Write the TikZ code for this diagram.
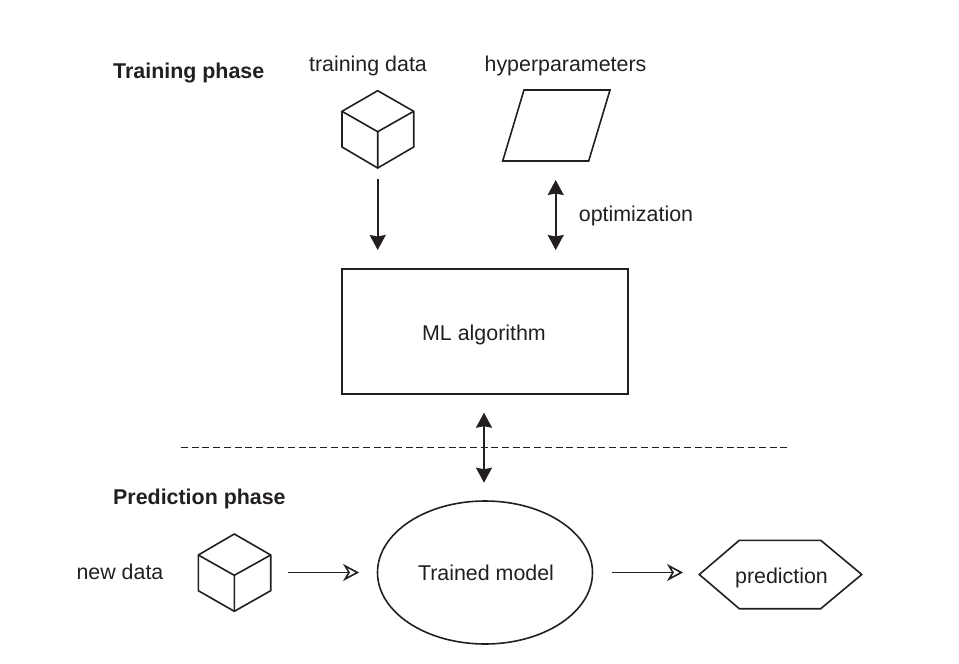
\documentclass[tikz,border=0pt]{standalone}
\usepackage{fontspec}
\setmainfont{Liberation Sans}
\usetikzlibrary{arrows.meta,shapes.geometric}
\definecolor{ink}{HTML}{231F20}
\tikzset{
  x=1pt,y=-1pt,
  line/.style={draw=ink,line width=1.6pt,line join=miter},
  label/.style={anchor=base,inner sep=0pt,text=ink,font=\fontsize{21.4}{24}\selectfont},
  heading/.style={anchor=base west,inner sep=0pt,text=ink,font=\fontsize{21.4}{24}\selectfont\bfseries},
  hidden/.style={inner sep=0pt,outer sep=0pt},
  solidhead/.tip={Stealth[length=15pt,width=16pt,inset=1.5pt,fill=ink]},
  openhead/.tip={Stealth[open,length=16pt,width=17pt,inset=5pt,fill=white,line width=1.6pt]},
  one/.style={line,-{solidhead}},
  both/.style={line,{solidhead}-{solidhead}},
  outarrow/.style={line,-{openhead}},
  separator/.style={draw=ink,line width=1.6pt,dash pattern=on 7pt off 3.7pt},
}
\begin{document}
\begin{tikzpicture}
\useasboundingbox (0,0) rectangle (959,664);

% hidden anchors for the shapes drawn by hand
\node[hidden,minimum width=72pt,minimum height=77.3pt] (cubeA) at (377.7,129.4) {};
\node[hidden,minimum width=107pt,minimum height=71pt] (hyper) at (555.7,125.5) {};
\node[hidden,minimum width=72.4pt,minimum height=77.3pt] (cubeB) at (234.5,572.5) {};
\node[hidden,minimum width=162.4pt,minimum height=68.4pt] (pred) at (780.5,574.5) {};

% cubes
\draw[line] (377.7,90.7) -- (413.7,111.3) -- (413.7,147) -- (377.7,168) -- (342,147) -- (342,111.3) -- cycle;
\draw[line] (342,111.3) -- (377.7,131.7) -- (413.7,111.3) (377.7,131.7) -- (377.7,168);
\draw[line] (234.3,534) -- (270.7,555) -- (270.7,590.7) -- (234.3,611.3) -- (198.3,590.7) -- (198.3,555) -- cycle;
\draw[line] (198.3,555) -- (234.3,575.3) -- (270.7,555) (234.3,575.3) -- (234.3,611.3);

% parallelogram and hexagon
\draw[line] (524,90) -- (610,90) -- (588.7,161) -- (502.7,161) -- cycle;
\draw[line] (699.3,574.5) -- (739.3,540.3) -- (820.7,540.3) -- (861.7,574.5) -- (820.7,608.7) -- (739.3,608.7) -- cycle;

% real nodes
\node[line,hidden,minimum width=286pt,minimum height=125pt] (alg) at (485,331.5) {};
\node[line,hidden,ellipse,minimum width=215pt,minimum height=143pt] (model) at (485,572.5) {};

% connectors
\draw[one,shorten <=11pt,shorten >=19pt] (cubeA.south) -- (cubeA.south |- alg.north);
\draw[both,shorten <=19pt,shorten >=19pt] (hyper.south) -- (hyper.south |- alg.north);
\draw[both,shorten <=18.7pt,shorten >=18.3pt] ([xshift=-1pt]alg.south) -- ([xshift=-1pt]model.north);
\draw[outarrow,shorten <=17.6pt,shorten >=18.4pt] (cubeB.east) -- (model.west);
\draw[outarrow,shorten <=19.7pt,shorten >=16.3pt] (model.east) -- (model.east -| pred.west);

% dashed separator
\coordinate (sepL) at (181,447.5);
\coordinate (sepR) at (788,447.5);
\draw[separator] (sepL) -- (sepR);

% labels
\node[heading] (phaseT) at (113,78) {Training phase};
\node[heading] (phaseP) at (113,504) {Prediction phase};
\node[label] (tdata) at (368,71) {training data};
\node[label] (hp) at (565.5,71) {hyperparameters};
\node[label] (opt) at (636,221) {optimization};
\node[label] (algt) at (484,340) {ML algorithm};
\node[label] (newd) at (120,579) {new data};
\node[label] (tm) at (486,580) {Trained model};
\node[label] (predt) at (781.5,583) {prediction};
\end{tikzpicture}
\end{document}
